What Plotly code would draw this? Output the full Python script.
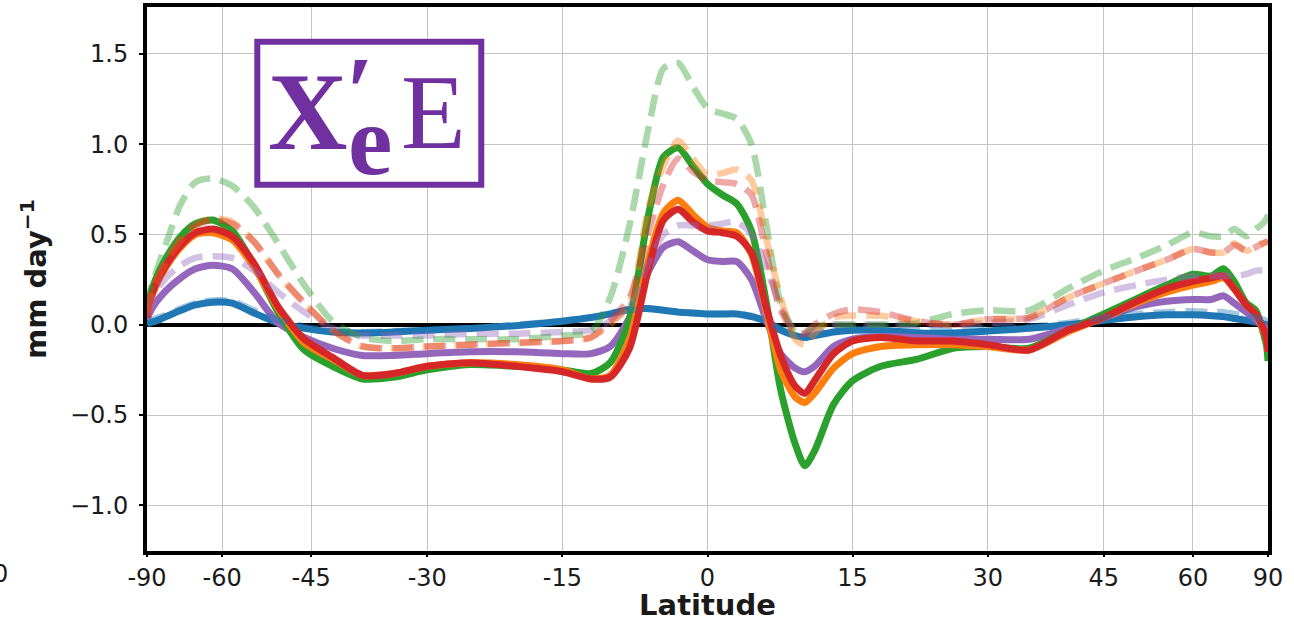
import numpy as np
import plotly.graph_objects as go

# Latitudes (degrees) at which values were read
lat = [-90, -85, -80, -75, -70, -66, -62, -58, -54, -50,
       -46, -42, -38, -34, -30, -25, -20, -15, -12, -10,
       -8, -6, -4.5, -3, -1.5, 0, 1.5, 3, 4.5, 6,
       7.5, 9, 10, 11, 13, 15, 18, 22, 26, 30,
       35, 40, 45, 50, 55, 60, 64, 67, 70, 74,
       78, 82, 86, 90]

# solid lines
blue = [0.0, 0.01, 0.02, 0.045, 0.08, 0.11, 0.125, 0.12, 0.065, 0.01,
        -0.02, -0.04, -0.045, -0.04, -0.03, -0.02, -0.005, 0.02, 0.04, 0.06,
        0.085, 0.09, 0.08, 0.07, 0.065, 0.06, 0.06, 0.06, 0.045, 0.02,
        -0.03, -0.06, -0.07, -0.06, -0.04, -0.03, -0.03, -0.045, -0.045, -0.035,
        -0.02, 0.0, 0.025, 0.045, 0.055, 0.055, 0.05, 0.045, 0.035, 0.025,
        0.015, 0.005, 0.0, 0.0]
purple = [0.03, 0.06, 0.12, 0.19, 0.26, 0.31, 0.33, 0.31, 0.18, 0.01,
          -0.07, -0.13, -0.17, -0.17, -0.16, -0.15, -0.15, -0.16, -0.16, -0.12,
          0.04, 0.30, 0.43, 0.46, 0.41, 0.36, 0.35, 0.35, 0.25, 0.03,
          -0.16, -0.24, -0.26, -0.23, -0.12, -0.08, -0.065, -0.07, -0.08, -0.08,
          -0.08, -0.02, 0.04, 0.10, 0.13, 0.14, 0.14, 0.16, 0.12, 0.07,
          0.03, 0.0, -0.02, -0.05]
green = [0.05, 0.14, 0.25, 0.37, 0.49, 0.56, 0.58, 0.52, 0.33, 0.07,
         -0.14, -0.23, -0.30, -0.29, -0.25, -0.22, -0.23, -0.25, -0.27, -0.21,
         0.03, 0.62, 0.93, 0.98, 0.88, 0.78, 0.72, 0.67, 0.52, 0.13,
         -0.36, -0.66, -0.78, -0.70, -0.44, -0.31, -0.23, -0.19, -0.13, -0.12,
         -0.13, -0.03, 0.06, 0.145, 0.22, 0.28, 0.27, 0.31, 0.24, 0.12,
         0.08, -0.03, -0.12, -0.20]
orange = [0.04, 0.11, 0.21, 0.32, 0.43, 0.50, 0.51, 0.47, 0.32, 0.09,
          -0.10, -0.19, -0.28, -0.27, -0.23, -0.21, -0.22, -0.25, -0.30, -0.28,
          -0.08, 0.37, 0.62, 0.69, 0.61, 0.54, 0.52, 0.51, 0.39, 0.08,
          -0.25, -0.40, -0.43, -0.38, -0.24, -0.16, -0.12, -0.11, -0.11, -0.12,
          -0.14, -0.04, 0.04, 0.12, 0.18, 0.22, 0.24, 0.26, 0.20, 0.11,
          0.06, -0.02, -0.08, -0.15]
red = [0.04, 0.12, 0.22, 0.33, 0.44, 0.51, 0.53, 0.49, 0.34, 0.10,
       -0.08, -0.18, -0.28, -0.27, -0.23, -0.21, -0.23, -0.26, -0.30, -0.29,
       -0.13, 0.32, 0.58, 0.64, 0.57, 0.52, 0.51, 0.49, 0.40, 0.10,
       -0.17, -0.34, -0.38, -0.31, -0.16, -0.09, -0.07, -0.09, -0.09, -0.11,
       -0.14, -0.03, 0.04, 0.13, 0.20, 0.24, 0.26, 0.27, 0.20, 0.11,
       0.06, -0.01, -0.08, -0.15]

# dashed (faded) lines
blue_d = [0.0, 0.02, 0.035, 0.055, 0.09, 0.12, 0.135, 0.13, 0.08, 0.025,
          -0.01, -0.03, -0.04, -0.035, -0.03, -0.02, 0.0, 0.02, 0.04, 0.06,
          0.08, 0.085, 0.08, 0.07, 0.065, 0.06, 0.06, 0.06, 0.05, 0.02,
          -0.02, -0.05, -0.06, -0.05, -0.03, -0.02, -0.02, -0.03, -0.03, -0.02,
          -0.01, 0.01, 0.04, 0.06, 0.07, 0.075, 0.07, 0.07, 0.06, 0.05,
          0.04, 0.03, 0.02, 0.01]
purple_d = [0.05, 0.10, 0.18, 0.26, 0.33, 0.37, 0.38, 0.37, 0.30, 0.18,
            0.07, -0.02, -0.06, -0.06, -0.06, -0.05, -0.05, -0.04, -0.03, 0.02,
            0.10, 0.35, 0.50, 0.55, 0.55, 0.55, 0.56, 0.57, 0.50, 0.32,
            0.10, -0.03, -0.05, -0.03, 0.0, 0.0, 0.0, 0.0, 0.0, 0.01,
            0.03, 0.11, 0.18, 0.22, 0.25, 0.27, 0.27, 0.27, 0.27, 0.28,
            0.30, 0.30, 0.30, 0.30]
green_d = [0.10, 0.17, 0.28, 0.45, 0.67, 0.79, 0.81, 0.77, 0.65, 0.45,
           0.22, 0.02, -0.07, -0.09, -0.08, -0.08, -0.08, -0.06, -0.04, 0.15,
           0.55, 1.10, 1.42, 1.45, 1.32, 1.20, 1.17, 1.14, 1.00, 0.56,
           0.12, -0.04, -0.04, -0.01, 0.0, 0.0, 0.0, 0.01, 0.06, 0.08,
           0.08, 0.20, 0.30, 0.37, 0.44, 0.51, 0.49, 0.49, 0.53, 0.49,
           0.53, 0.56, 0.59, 0.61]
orange_d = [0.06, 0.13, 0.23, 0.35, 0.47, 0.55, 0.59, 0.57, 0.46, 0.28,
            0.12, -0.03, -0.12, -0.13, -0.12, -0.11, -0.10, -0.09, -0.07, 0.0,
            0.12, 0.66, 0.88, 1.02, 0.92, 0.83, 0.84, 0.86, 0.80, 0.48,
            0.15, -0.08, -0.11, -0.05, 0.04, 0.05, 0.05, 0.02, 0.0, 0.03,
            0.04, 0.15, 0.23, 0.30, 0.36, 0.42, 0.40, 0.40, 0.45, 0.41,
            0.43, 0.45, 0.46, 0.47]
red_d = [0.06, 0.13, 0.23, 0.35, 0.47, 0.55, 0.58, 0.56, 0.46, 0.28,
         0.12, -0.03, -0.12, -0.13, -0.12, -0.11, -0.10, -0.09, -0.07, 0.02,
         0.15, 0.52, 0.78, 0.92, 0.85, 0.80, 0.79, 0.78, 0.72, 0.40,
         0.08, -0.04, -0.05, 0.0, 0.06, 0.085, 0.07, 0.02, 0.0, 0.03,
         0.04, 0.15, 0.23, 0.30, 0.36, 0.42, 0.40, 0.40, 0.44, 0.41,
         0.43, 0.45, 0.46, 0.47]

tick_lats = [-90, -60, -45, -30, -15, 0, 15, 30, 45, 60, 90]
tick_text = ["-90", "-60", "-45", "-30", "-15", "0", "15", "30", "45", "60", "90"]
ytick_vals = [-1.0, -0.5, 0.0, 0.5, 1.0, 1.5]
ytick_text = ["\u22121.0", "\u22120.5", "0.0", "0.5", "1.0", "1.5"]

C_BLUE, C_ORANGE, C_GREEN, C_RED, C_PURPLE = "#1f77b4", "#ff7f0e", "#2ca02c", "#d62728", "#9467bd"

x = np.sin(np.radians(np.array(lat, dtype=float)))

fig = go.Figure()
LW = 7
for vals, col in [(blue, C_BLUE), (purple, C_PURPLE), (green, C_GREEN),
                  (orange, C_ORANGE), (red, C_RED)]:
    fig.add_trace(go.Scatter(x=x, y=vals, mode="lines",
                             line=dict(color=col, width=LW, shape="spline", smoothing=0.7),
                             showlegend=False, hoverinfo="skip"))
for vals, col in [(blue_d, C_BLUE), (purple_d, C_PURPLE), (green_d, C_GREEN),
                  (orange_d, C_ORANGE), (red_d, C_RED)]:
    fig.add_trace(go.Scatter(x=x, y=vals, mode="lines", opacity=0.4,
                             line=dict(color=col, width=6.5, dash="22px,10px",
                                       shape="spline", smoothing=0.7),
                             showlegend=False, hoverinfo="skip"))

FONT = "DejaVu Sans"
axis_common = dict(showline=True, linecolor="black", linewidth=4, mirror=True,
                   ticks="outside", tickwidth=1.5, tickcolor="black",
                   showgrid=True, gridcolor="#c4c4c4", gridwidth=1, automargin=False,
                   tickfont=dict(family=FONT, size=24, color="#1a1a1a"))

fig.update_layout(
    width=1294, height=622,
    margin=dict(l=147, r=26, t=7, b=71),
    paper_bgcolor="white", plot_bgcolor="white",
    xaxis=dict(range=[-1, 1], tickmode="array", ticklen=2,
               tickvals=list(np.sin(np.radians(tick_lats))), ticktext=tick_text,
               zeroline=False,
               title=dict(text="<b>Latitude</b>", font=dict(family=FONT, size=29, color="#1a1a1a"),
                          standoff=7),
               **axis_common),
    yaxis=dict(range=[-1.253, 1.76], tickmode="array", tickvals=ytick_vals, ticktext=ytick_text,
               ticklen=4,
               zeroline=True, zerolinecolor="black", zerolinewidth=3.5, ticklabelstandoff=6,
               title=dict(text="<b>mm day<sup>\u22121</sup></b>",
                          font=dict(family=FONT, size=29, color="#1a1a1a"), standoff=16),
               **axis_common),
)

# label box
PURPLE_BOX = "#7030a0"
fig.add_shape(type="rect", xref="paper", yref="paper",
              x0=0.0984, x1=0.2982, y0=0.6733, y1=0.9362,
              line=dict(color=PURPLE_BOX, width=6), fillcolor="white", layer="above")
SERIF = "Liberation Serif"
fig.add_annotation(xref="paper", yref="paper", x=0.143, y=0.8075, text="<b>X</b>",
                   showarrow=False, xanchor="center", yanchor="middle",
                   font=dict(family=SERIF, size=110, color=PURPLE_BOX))
fig.add_annotation(xref="paper", yref="paper", x=0.1903, y=0.845, text="<b>\u2032</b>",
                   showarrow=False, xanchor="center", yanchor="middle",
                   font=dict(family=SERIF, size=100, color=PURPLE_BOX))
fig.add_annotation(xref="paper", yref="paper", x=0.1992, y=0.755, text="<b>e</b>",
                   showarrow=False, xanchor="center", yanchor="middle",
                   font=dict(family=SERIF, size=100, color=PURPLE_BOX))
fig.add_annotation(xref="paper", yref="paper", x=0.2554, y=0.806, text="E",
                   showarrow=False, xanchor="center", yanchor="middle",
                   font=dict(family=SERIF, size=106, color=PURPLE_BOX))

# stray tick label cut at the left edge
fig.add_annotation(xref="paper", yref="paper", x=-0.1309, y=-0.0417, text="0",
                   showarrow=False, xanchor="center", yanchor="middle",
                   font=dict(family=FONT, size=24, color="#1a1a1a"))

fig.write_html("out.html", config={"displayModeBar": False},
               post_script="document.body.style.margin='0';")
